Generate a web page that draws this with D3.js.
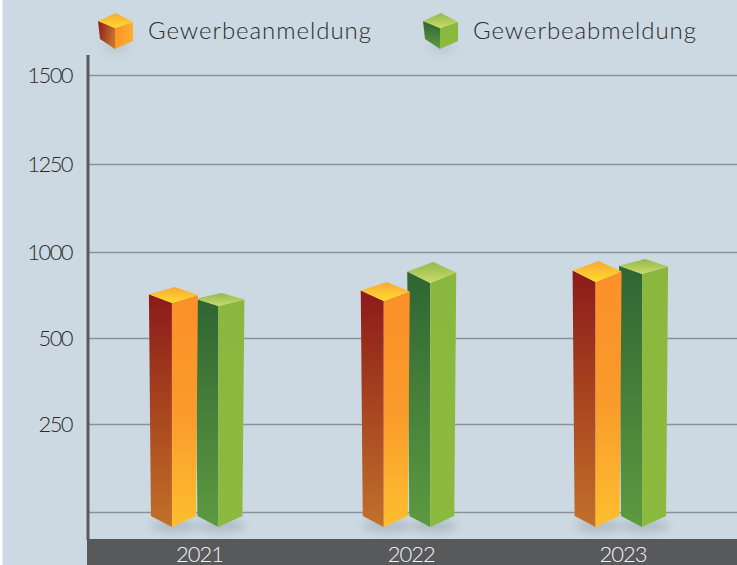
<!DOCTYPE html>
<html>
<head>
<meta charset="utf-8">
<script src="https://cdn.jsdelivr.net/npm/d3@7"></script>
<style>
  html, body { margin: 0; padding: 0; background: #ccd9e2; overflow: hidden; }
  svg { display: block; }
  text { font-family: Lato, "Open Sans", sans-serif; font-weight: 300; }
</style>
</head>
<body>
<div id="chart"></div>
<script>
// Data
const years = ['2021', '2022', '2023'];
const seriesNames = ['Gewerbeanmeldung', 'Gewerbeabmeldung'];
const anmeldung = [703, 715, 826];
const abmeldung = [686, 820, 872];
const tickValues = [0, 250, 500, 1000, 1250, 1500];

const width = 737;
const height = 565;

const svg = d3.select('#chart')
  .append('svg')
    .attr('width', width)
    .attr('height', height);

// Gradients for the box faces
const defs = svg.append('defs');
const addGradient = (id, stops, x2 = 0, y2 = 1) => {
  const gradient = defs.append('linearGradient')
    .attr('id', id)
    .attr('x1', 0).attr('y1', 0)
    .attr('x2', x2).attr('y2', y2);
  stops.forEach((c, i) => gradient.append('stop')
    .attr('offset', i / (stops.length - 1))
    .attr('stop-color', c));
};
addGradient('orange-left', ['#8c1a1a', '#a8451f', '#c2702a']);
addGradient('orange-front', ['#fb9029', '#fa9a2c', '#fdbe2e']);
addGradient('orange-top', ['#f9a838', '#ffdc2a']);
addGradient('green-left', ['#2f6533', '#47803a', '#5c9a3f']);
addGradient('green-front', ['#8ab83e', '#8cba3e']);
addGradient('green-top', ['#93b84e', '#c8dc68']);
addGradient('cube-left', ['#8c1a1a', '#c2702a'], 1, 0.3);
addGradient('cube-front', ['#fb9029', '#fdae2e'], 1, 0.3);

defs.append('filter')
    .attr('id', 'soft')
    .attr('x', '-50%').attr('y', '-150%')
    .attr('width', '200%').attr('height', '400%')
  .append('feGaussianBlur')
    .attr('stdDeviation', 5);

// White strip on the left edge
svg.append('rect')
  .attr('width', 2.5)
  .attr('height', height)
  .attr('fill', '#ffffff');

// Y axis - ticks are evenly spaced although the labels are not
const yScale = d3.scaleLinear()
  .domain(tickValues)
  .range([512, 424, 338, 252, 164, 75]);

const yAxis = svg.append('g')
  .attr('transform', 'translate(88,0)')
  .call(d3.axisLeft(yScale)
    .tickValues(tickValues)
    .tickSize(0)
    .tickPadding(16)
    .tickFormat(d => d === 0 ? '' : d));
yAxis.select('.domain').remove();
yAxis.selectAll('text')
  .attr('font-size', 22)
  .attr('fill', '#2b2b2d')
  .attr('letter-spacing', -1.6)
  .style('font-family', 'Lato, sans-serif')
  .style('font-weight', 300);
yAxis.selectAll('.tick')
  .append('line')
    .attr('x2', width - 88)
    .attr('stroke', '#8a9299')
    .attr('stroke-width', 1.5);

svg.append('line')
  .attr('x1', 88).attr('x2', 88)
  .attr('y1', 55).attr('y2', 540)
  .attr('stroke', '#58595b')
  .attr('stroke-width', 3);

// X axis - dark band with the years
const xScale = d3.scaleBand()
  .domain(years)
  .range([93.5, 729]);
const seriesScale = d3.scaleBand()
  .domain(seriesNames)
  .range([-50.75, 42.25]);

svg.append('rect')
  .attr('x', 87)
  .attr('y', 539)
  .attr('width', width - 87)
  .attr('height', height - 539)
  .attr('fill', '#58595b');

const xAxis = svg.append('g')
  .attr('transform', 'translate(0,539)')
  .call(d3.axisBottom(xScale).tickSize(0).tickPadding(7));
xAxis.select('.domain').remove();
xAxis.selectAll('text')
  .attr('font-size', 22)
  .attr('fill', '#f2f2f2')
  .attr('letter-spacing', -1)
  .style('font-family', 'Lato, sans-serif')
  .style('font-weight', 300);

// Bars
const poly = (g, points, fill) => g.append('polygon')
  .attr('points', points.map(p => p.join(',')).join(' '))
  .attr('fill', fill);

// how deep the lid of each box looks, it changes a bit per bar in the original
const lidDepth = {
  Gewerbeanmeldung: [0.8, 0.95, 1.05],
  Gewerbeabmeldung: [0.65, 1.05, 0.75]
};

const drawBar = (g, fx, fy, prefix, k) => {
  const baseY = 527;
  g.append('ellipse')
    .attr('cx', fx + 3)
    .attr('cy', baseY - 1)
    .attr('rx', 24)
    .attr('ry', 5)
    .attr('fill', '#7c8b94')
    .attr('opacity', 0.45)
    .attr('filter', 'url(#soft)');
  poly(g, [[fx - 23, fy - 11 * k], [fx, fy], [fx, baseY], [fx - 21, baseY - 11]], `url(#${prefix}-left)`);
  poly(g, [[fx, fy], [fx + 26, fy - 10 * k], [fx + 24, baseY - 11], [fx, baseY]], `url(#${prefix}-front)`);
  poly(g, [[fx - 23, fy - 11 * k], [fx + 3, fy - 20 * k], [fx + 26, fy - 10 * k], [fx, fy]], `url(#${prefix}-top)`);
};

const barsGroup = svg.append('g').attr('class', 'bars-group');
years.forEach((year, i) => {
  const center = xScale(year) + xScale.bandwidth() / 2;
  // green first, the orange box sits in front of it
  [1, 0].forEach(s => {
    const name = seriesNames[s];
    const value = s === 0 ? anmeldung[i] : abmeldung[i];
    const prefix = s === 0 ? 'orange' : 'green';
    const fx = center + seriesScale(name) + seriesScale.bandwidth() / 2;
    drawBar(barsGroup.append('g'), fx, yScale(value), prefix, lidDepth[name][i]);
  });
});

// Legend
const legendItems = [
  { name: seriesNames[0], x: 116, text: 148, left: 'cube-left', front: 'cube-front', top: 'orange-top' },
  { name: seriesNames[1], x: 441, text: 473, left: 'green-left', front: 'green-front', top: 'green-top' }
];
const legend = svg.append('g').attr('class', 'legend');
legendItems.forEach(item => {
  const cy = 31;
  const g = legend.append('g');
  g.append('ellipse')
    .attr('cx', item.x)
    .attr('cy', cy + 17)
    .attr('rx', 14)
    .attr('ry', 3)
    .attr('fill', '#7c8b94')
    .attr('opacity', 0.35)
    .attr('filter', 'url(#soft)');
  poly(g, [[item.x - 18, cy - 10], [item.x - 1, cy - 3], [item.x - 1, cy + 18], [item.x - 16, cy + 8]], `url(#${item.left})`);
  poly(g, [[item.x - 1, cy - 3], [item.x + 17, cy - 9], [item.x + 17, cy + 10], [item.x - 1, cy + 18]], `url(#${item.front})`);
  poly(g, [[item.x - 18, cy - 10], [item.x, cy - 18], [item.x + 17, cy - 9], [item.x - 1, cy - 3]], `url(#${item.top})`);
  g.append('text')
    .attr('x', item.text)
    .attr('y', 39)
    .attr('font-size', 24)
    .attr('fill', '#2b2b2d')
    .attr('textLength', 223)
    .text(item.name);
});
</script>
</body>
</html>
